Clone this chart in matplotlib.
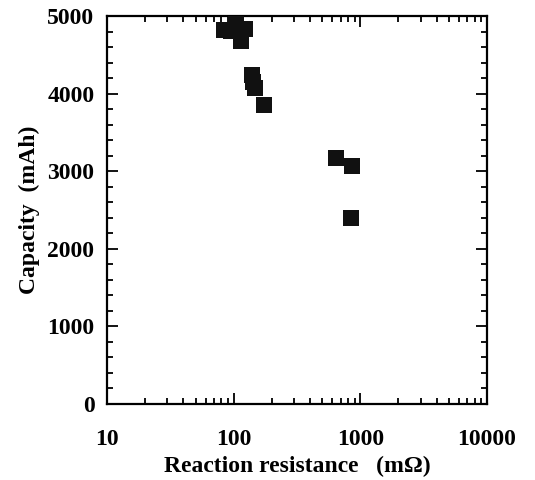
import matplotlib
matplotlib.use("Agg")
import matplotlib.pyplot as plt
from matplotlib.ticker import LogLocator, MultipleLocator, NullFormatter, FixedFormatter, FixedLocator

plt.rcParams['font.family'] = ['Liberation Serif', 'DejaVu Serif']
plt.rcParams['font.weight'] = 'bold'

# reaction resistance (mOhm) vs capacity (mAh)
resistance = [84, 95, 104, 114, 123, 139, 142, 147, 173, 641, 859, 843]
capacity = [4820, 4807, 4897, 4678, 4832, 4240, 4150, 4072, 3853, 3170, 3067, 2397]

x_ticks = [10, 100, 1000, 10000]
x_labels = ['10', '100', '1000', '10000']
y_ticks = [0, 1000, 2000, 3000, 4000, 5000]

fig = plt.figure(figsize=(5.35, 4.8), dpi=100)
ax = fig.add_axes([107/535, 1 - 404/480, 380/535, 388/480])

ax.scatter(resistance, capacity, marker='s', s=125, color='#111111', edgecolors='none', zorder=3)

ax.set_xscale('log')
ax.set_xlim(10, 10000)
ax.set_ylim(0, 5000)
ax.xaxis.set_major_locator(FixedLocator(x_ticks))
ax.xaxis.set_major_formatter(FixedFormatter(x_labels))
ax.xaxis.set_minor_locator(LogLocator(base=10, subs=range(2, 10)))
ax.xaxis.set_minor_formatter(NullFormatter())
ax.set_yticks(y_ticks)
ax.yaxis.set_minor_locator(MultipleLocator(200))

ax.tick_params(which='both', direction='in', top=True, right=True, width=1.3)
ax.tick_params(which='major', length=8, labelsize=17)
ax.tick_params(axis='x', which='major', pad=18)
ax.tick_params(axis='y', which='major', pad=9)
ax.tick_params(which='minor', length=4)
for sp in ax.spines.values():
    sp.set_linewidth(1.6)

ax.set_xlabel('Reaction resistance   (m\u03a9)', fontsize=17, fontweight='bold', labelpad=4)
ax.set_ylabel('Capacity  (mAh)', fontsize=17, fontweight='bold', labelpad=5)

fig.savefig('out.png', dpi=100)
